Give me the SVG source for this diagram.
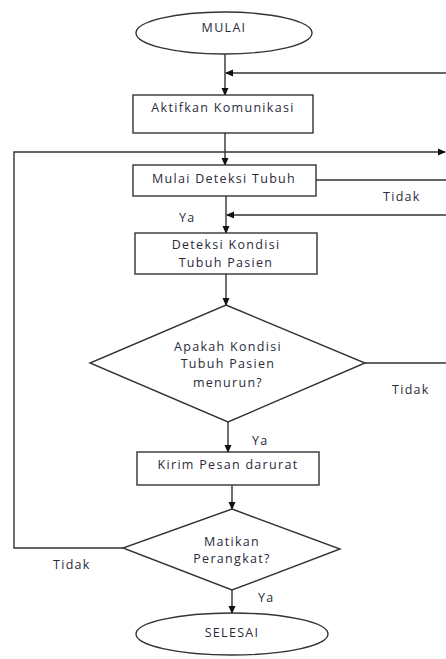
<svg xmlns="http://www.w3.org/2000/svg" width="446" height="659" viewBox="0 0 446 659">
<style>
.s{fill:#fff;stroke:#333;stroke-width:1.4}
.c{fill:none;stroke:#333;stroke-width:1.4}
.t{font-family:"Open Sans","Liberation Sans",sans-serif;font-size:12.5px;fill:#2a2a3a;text-anchor:middle;letter-spacing:1.3px}
.l{font-family:"Open Sans","Liberation Sans",sans-serif;font-size:12.5px;fill:#2a2a3a;letter-spacing:1.3px}
</style>
<defs>
<marker id="a" markerWidth="8" markerHeight="8" refX="7" refY="4" orient="auto" markerUnits="userSpaceOnUse">
<path d="M0,0.5 L8,4 L0,7.5 Z" fill="#111"/>
</marker>
</defs>
<rect width="446" height="659" fill="#fff"/>
<g id="connectors">
<path class="c" d="M225,53 V95" marker-end="url(#a)"/>
<path class="c" d="M446,73 H226" marker-end="url(#a)"/>
<path class="c" d="M225,133 V165" marker-end="url(#a)"/>
<path class="c" d="M123,548 H14 V152 H445" marker-end="url(#a)"/>
<path class="c" d="M316,180 H446"/>
<path class="c" d="M226,196 V233" marker-end="url(#a)"/>
<path class="c" d="M446,215 H227" marker-end="url(#a)"/>
<path class="c" d="M226,274 V305" marker-end="url(#a)"/>
<path class="c" d="M365,363 H446"/>
<path class="c" d="M228,422 V452" marker-end="url(#a)"/>
<path class="c" d="M232,485 V509" marker-end="url(#a)"/>
<path class="c" d="M232,590 V613" marker-end="url(#a)"/>
<text class="l" x="383" y="201">Tidak</text>
<text class="l" x="179" y="222">Ya</text>
<text class="l" x="392" y="394">Tidak</text>
<text class="l" x="252" y="445">Ya</text>
<text class="l" x="53" y="569">Tidak</text>
<text class="l" x="258" y="602">Ya</text>
</g>
<g id="mulai">
<ellipse class="s" cx="224" cy="33" rx="88" ry="21"/>
<text class="t" x="224" y="32">MULAI</text>
</g>
<g id="aktifkan">
<rect class="s" x="133" y="95" width="180" height="38"/>
<text class="t" x="223" y="112">Aktifkan Komunikasi</text>
</g>
<g id="mulai-deteksi">
<rect class="s" x="133" y="165" width="183" height="31"/>
<text class="t" x="224" y="183">Mulai Deteksi Tubuh</text>
</g>
<g id="deteksi-kondisi">
<rect class="s" x="135" y="233" width="182" height="41"/>
<text class="t" x="226" y="249">Deteksi Kondisi</text>
<text class="t" x="226" y="267">Tubuh Pasien</text>
</g>
<g id="apakah">
<polygon class="s" points="226,305 365,363 228,422 90,363"/>
<text class="t" x="228" y="351">Apakah Kondisi</text>
<text class="t" x="228" y="368">Tubuh Pasien</text>
<text class="t" x="228" y="387">menurun?</text>
</g>
<g id="kirim">
<rect class="s" x="137" y="452" width="182" height="33"/>
<text class="t" x="228" y="469">Kirim Pesan darurat</text>
</g>
<g id="matikan">
<polygon class="s" points="232,509 340,549 232,590 123,548"/>
<text class="t" x="232" y="546">Matikan</text>
<text class="t" x="232" y="563">Perangkat?</text>
</g>
<g id="selesai">
<ellipse class="s" cx="232" cy="634" rx="96" ry="21"/>
<text class="t" x="232" y="637">SELESAI</text>
</g>
</svg>
